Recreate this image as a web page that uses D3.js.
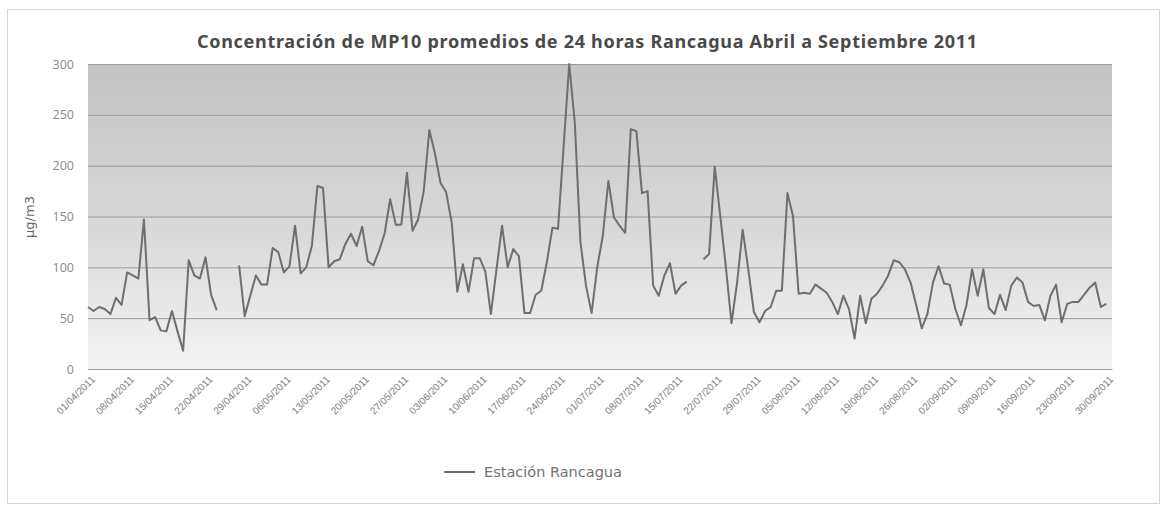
<!DOCTYPE html>
<html>
<head>
<meta charset="utf-8">
<script src="https://cdn.jsdelivr.net/npm/d3@7"></script>
<style>
  html, body { margin: 0; padding: 0; background: #fff; }
  svg { display: block; }
</style>
</head>
<body>
<div id="chart"></div>
<script>
// Daily 24h averages of PM10, Rancagua, 01/04/2011 .. 30/09/2011 (null = no data)
const startDate = "2011-04-01";
const pm10 = [
  61, 57, 61, 59, 54, 70, 63, 95, 92, 89,
  147, 48, 51, 38, 37, 57, 37, 18, 107, 92,
  89, 110, 73, 58, null, null, null, 102, 52, 72,
  92, 83, 83, 119, 115, 95, 101, 141, 94, 100,
  121, 180, 178, 100, 106, 108, 123, 133, 121, 140,
  106, 102, 116, 133, 167, 142, 142, 193, 136, 147,
  175, 235, 212, 183, 174, 144, 76, 103, 76, 109,
  109, 96, 54, 98, 141, 100, 118, 111, 55, 55,
  73, 77, 105, 139, 138, 219, 300, 242, 125, 82,
  55, 100, 131, 185, 149, 141, 134, 236, 234, 173,
  175, 82, 72, 92, 104, 74, 82, 86, null, null,
  108, 113, 199, 150, 100, 45, 85, 137, 98, 56,
  46, 57, 61, 77, 77, 173, 150, 74, 75, 74,
  83, 79, 75, 66, 54, 72, 59, 30, 72, 45,
  69, 74, 82, 92, 107, 105, 98, 85, 63, 40,
  54, 85, 101, 84, 83, 59, 43, 63, 98, 72,
  98, 60, 54, 73, 58, 82, 90, 85, 66, 62,
  63, 48, 72, 83, 46, 64, 66, 66, 73, 80,
  85, 61, 64
];
const yTicks = [0, 50, 100, 150, 200, 250, 300];
const xTickLabels = [
  "01/04/2011", "08/04/2011", "15/04/2011", "22/04/2011", "29/04/2011",
  "06/05/2011", "13/05/2011", "20/05/2011", "27/05/2011", "03/06/2011",
  "10/06/2011", "17/06/2011", "24/06/2011", "01/07/2011", "08/07/2011",
  "15/07/2011", "22/07/2011", "29/07/2011", "05/08/2011", "12/08/2011",
  "19/08/2011", "26/08/2011", "02/09/2011", "09/09/2011", "16/09/2011",
  "23/09/2011", "30/09/2011"
];
const titleText = "Concentración de MP10 promedios de 24 horas Rancagua Abril a Septiembre 2011";
const yLabel = "µg/m3";
const seriesName = "Estación Rancagua";

const width = 1165, height = 511;
const plot = { left: 88, right: 1112, top: 64, bottom: 369 };

const parseDay = d3.timeParse("%d/%m/%Y");
const start = d3.timeParse("%Y-%m-%d")(startDate);
const rows = pm10.map((v, i) => ({ date: d3.timeDay.offset(start, i), value: v }));
const tickDates = xTickLabels.map(parseDay);

const x = d3.scaleTime()
  .domain([start, d3.timeDay.offset(start, pm10.length)])
  .range([plot.left, plot.right]);
const y = d3.scaleLinear().domain([0, 300]).range([plot.bottom, plot.top]);

const svg = d3.select("#chart").append("svg")
  .attr("width", width)
  .attr("height", height)
  .style("font-family", "'DejaVu Sans', Verdana, sans-serif");

// outer chart frame
svg.append("rect")
  .attr("x", 7.5).attr("y", 9.5)
  .attr("width", 1152).attr("height", 494)
  .attr("fill", "#fff")
  .attr("stroke", "#d4d4d4");

const defs = svg.append("defs");
const grad = defs.append("linearGradient")
  .attr("id", "plotBg").attr("x1", 0).attr("x2", 0).attr("y1", 0).attr("y2", 1);
grad.append("stop").attr("offset", "0%").attr("stop-color", "#c4c4c4");
grad.append("stop").attr("offset", "55%").attr("stop-color", "#d9d9d9");
grad.append("stop").attr("offset", "100%").attr("stop-color", "#f4f4f4");

svg.append("rect")
  .attr("x", plot.left).attr("y", plot.top)
  .attr("width", plot.right - plot.left).attr("height", plot.bottom - plot.top)
  .attr("fill", "url(#plotBg)");

// title
svg.append("text")
  .attr("x", 587).attr("y", 48)
  .attr("text-anchor", "middle")
  .attr("font-family", "'Noto Sans', 'Open Sans', sans-serif")
  .attr("font-weight", "bold")
  .attr("font-size", 18)
  .attr("textLength", 780)
  .attr("lengthAdjust", "spacing")
  .attr("fill", "#4a4a4a")
  .text(titleText);

// y axis + gridlines
const yAxis = d3.axisLeft(y)
  .tickValues(yTicks)
  .tickSize(-(plot.right - plot.left))
  .tickPadding(14);
const gy = svg.append("g")
  .attr("transform", `translate(${plot.left},0)`)
  .call(yAxis);
gy.select(".domain").remove();
gy.selectAll(".tick line").attr("stroke", "#9a9a9a").attr("stroke-width", 1);
gy.selectAll(".tick text")
  .attr("font-size", 12.5)
  .attr("font-family", "'Open Sans', 'Noto Sans', sans-serif")
  .attr("fill", "#8a8a8a");

svg.append("text")
  .attr("transform", "translate(34,217) rotate(-90)")
  .attr("text-anchor", "middle")
  .attr("font-size", 13)
  .attr("fill", "#666")
  .text(yLabel);

// x axis
const xAxis = d3.axisBottom(x)
  .tickValues(tickDates)
  .tickSize(0)
  .tickFormat((d, i) => xTickLabels[i]);
const gx = svg.append("g")
  .attr("transform", `translate(0,${plot.bottom})`)
  .call(xAxis);
gx.select(".domain").attr("stroke", "#a0a0a0");
gx.selectAll(".tick text")
  .attr("font-size", 10)
  .attr("fill", "#7e7e7e")
  .attr("text-anchor", "end")
  .attr("dy", 0)
  .attr("transform", "translate(5,9) rotate(-45)");

// data line
const line = d3.line()
  .defined(d => d.value != null)
  .x(d => x(d.date))
  .y(d => y(d.value));

svg.append("path")
  .datum(rows)
  .attr("fill", "none")
  .attr("stroke", "#6e6e6e")
  .attr("stroke-width", 2)
  .attr("stroke-linejoin", "round")
  .attr("d", line);

// legend
const legend = svg.append("g").attr("transform", "translate(444,472)");
legend.append("line")
  .attr("x1", 0).attr("x2", 31)
  .attr("stroke", "#6e6e6e").attr("stroke-width", 2);
legend.append("text")
  .attr("x", 40).attr("y", 5)
  .attr("font-size", 14.5)
  .attr("fill", "#727272")
  .text(seriesName);
</script>
</body>
</html>
